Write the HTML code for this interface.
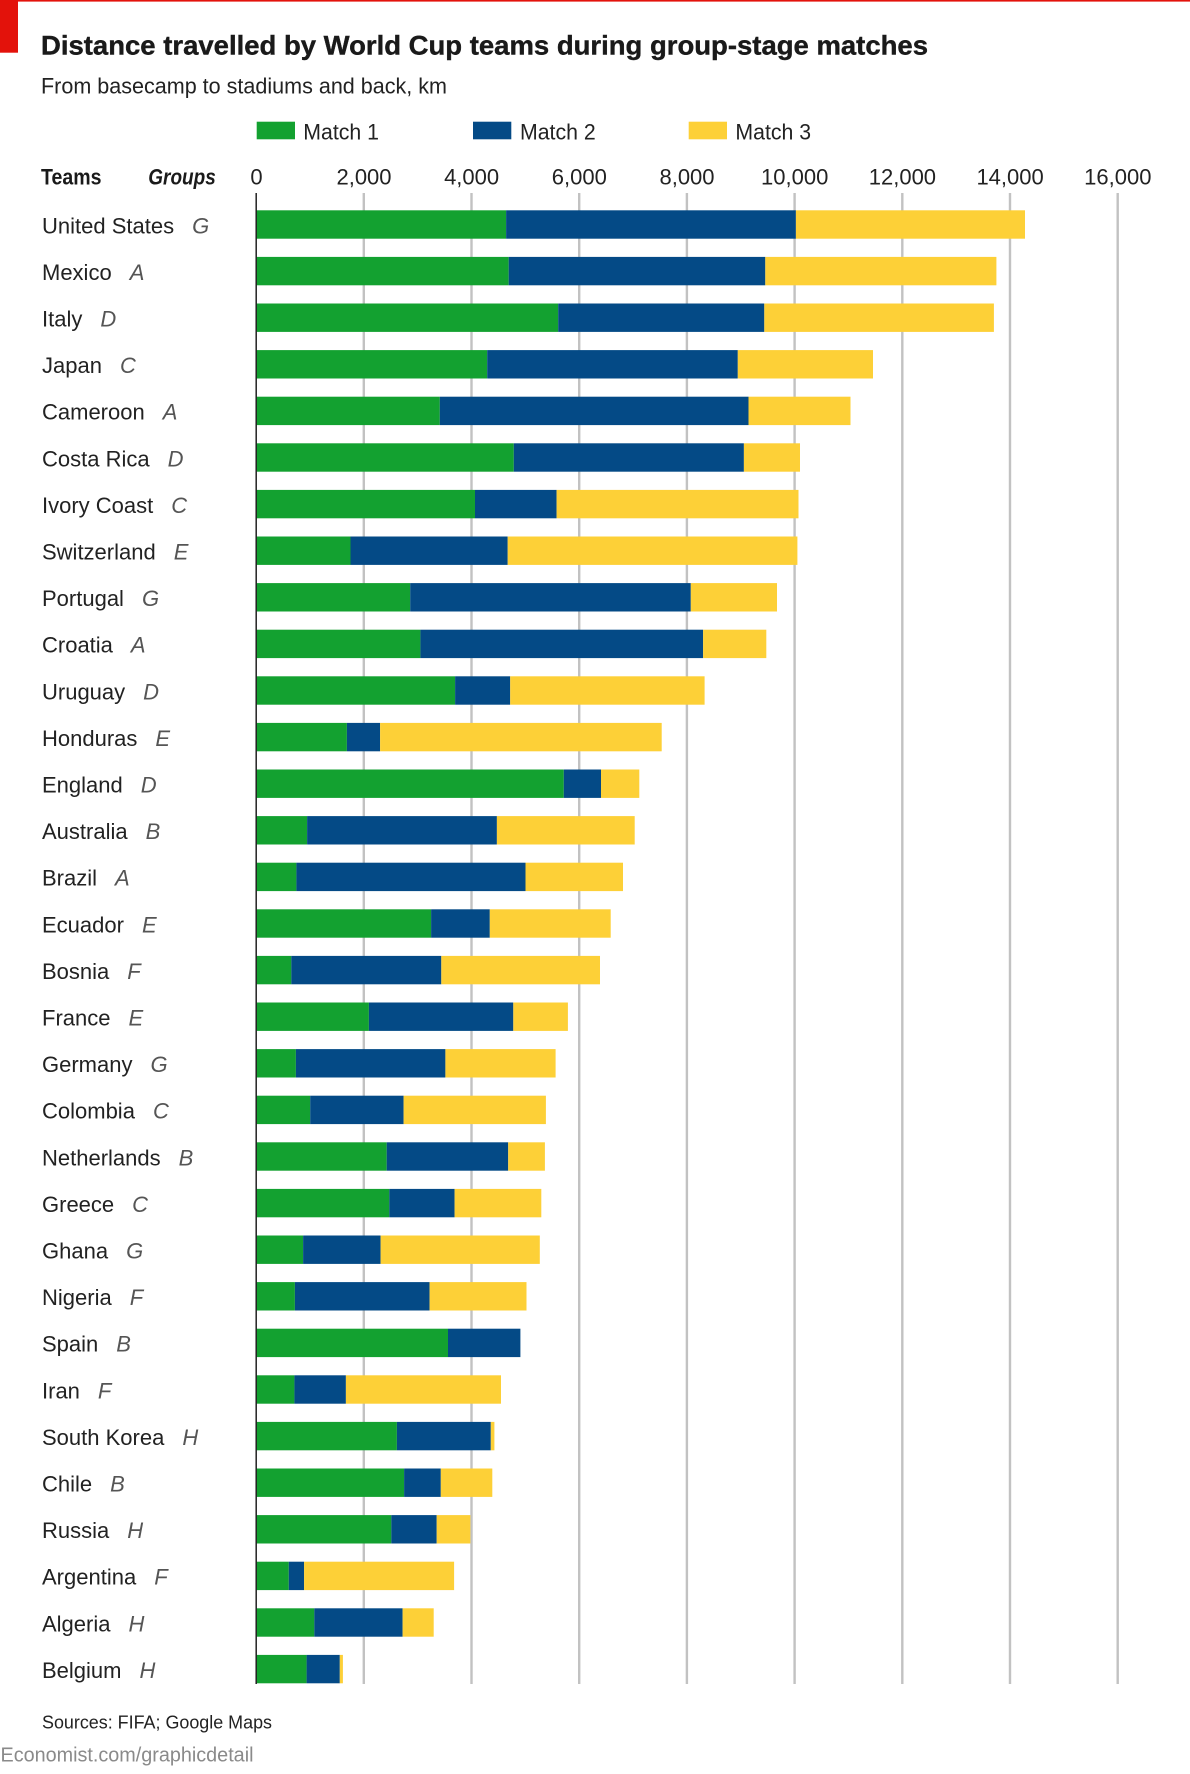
<!DOCTYPE html>
<html>
<head>
<meta charset="utf-8">
<style>
  html,body{margin:0;padding:0;background:#fff;}
  svg{display:block;}
  text{font-family:"Liberation Sans",Arial,sans-serif;}
</style>
</head>
<body>
<svg width="1190" height="1774" viewBox="0 0 1190 1774" xmlns="http://www.w3.org/2000/svg">
  <rect x="0" y="0" width="1190" height="1774" fill="#ffffff"/>
  <!-- Economist red -->
  <rect x="0" y="0" width="1190" height="1.6" fill="#e3120b"/>
  <rect x="0" y="0" width="18" height="52.7" fill="#e3120b"/>

  <!-- Title & subtitle -->
  <text x="41" y="54.5" font-size="27" font-weight="bold" fill="#1a1a1a" stroke="#1a1a1a" stroke-width="0.4" textLength="887" lengthAdjust="spacingAndGlyphs">Distance travelled by World Cup teams during group-stage matches</text>
  <text x="41" y="93.3" font-size="22" fill="#222" textLength="406" lengthAdjust="spacingAndGlyphs">From basecamp to stadiums and back, km</text>

  <!-- Legend -->
  <rect x="256.7" y="121.7" width="38.3" height="17.6" fill="#13a130"/>
  <text x="303.3" y="139.3" font-size="22" fill="#222" textLength="75.7" lengthAdjust="spacingAndGlyphs">Match 1</text>
  <rect x="473" y="121.7" width="38.3" height="17.6" fill="#044a86"/>
  <text x="520" y="139.3" font-size="22" fill="#222" textLength="75.7" lengthAdjust="spacingAndGlyphs">Match 2</text>
  <rect x="688.7" y="121.7" width="38.3" height="17.6" fill="#fdd037"/>
  <text x="735.4" y="139.3" font-size="22" fill="#222" textLength="75.7" lengthAdjust="spacingAndGlyphs">Match 3</text>

  <!-- Header -->
  <text x="41" y="184.5" font-size="22" font-weight="bold" fill="#1a1a1a" textLength="60.5" lengthAdjust="spacingAndGlyphs">Teams</text>
  <text x="148.3" y="184.5" font-size="22" font-weight="bold" font-style="italic" fill="#1a1a1a" textLength="67.5" lengthAdjust="spacingAndGlyphs">Groups</text>
  <g font-size="22" fill="#222" text-anchor="middle">
    <text x="256.5" y="184.5">0</text>
    <text x="364" y="184.5">2,000</text>
    <text x="471.6" y="184.5">4,000</text>
    <text x="579.3" y="184.5">6,000</text>
    <text x="687" y="184.5">8,000</text>
    <text x="794.7" y="184.5">10,000</text>
    <text x="902.4" y="184.5">12,000</text>
    <text x="1010.1" y="184.5">14,000</text>
    <text x="1117.8" y="184.5">16,000</text>
  </g>

  <!-- Gridlines -->
  <g stroke="#c2c2c2" stroke-width="2.4">
    <line x1="363.8" y1="193" x2="363.8" y2="1684"/>
    <line x1="471.5" y1="193" x2="471.5" y2="1684"/>
    <line x1="579.2" y1="193" x2="579.2" y2="1684"/>
    <line x1="686.9" y1="193" x2="686.9" y2="1684"/>
    <line x1="794.6" y1="193" x2="794.6" y2="1684"/>
    <line x1="902.3" y1="193" x2="902.3" y2="1684"/>
    <line x1="1010" y1="193" x2="1010" y2="1684"/>
    <line x1="1117.7" y1="193" x2="1117.7" y2="1684"/>
  </g>

  <!-- Bars -->
  <g>
    <rect x="256.5" y="210.3" width="249.6" height="28.4" fill="#13a130"/><rect x="506.1" y="210.3" width="289.8" height="28.4" fill="#044a86"/><rect x="795.9" y="210.3" width="229.1" height="28.4" fill="#fdd037"/>
    <rect x="256.5" y="256.9" width="252.2" height="28.4" fill="#13a130"/><rect x="508.7" y="256.9" width="256.6" height="28.4" fill="#044a86"/><rect x="765.3" y="256.9" width="231.1" height="28.4" fill="#fdd037"/>
    <rect x="256.5" y="303.5" width="301.7" height="28.4" fill="#13a130"/><rect x="558.2" y="303.5" width="206.1" height="28.4" fill="#044a86"/><rect x="764.3" y="303.5" width="229.6" height="28.4" fill="#fdd037"/>
    <rect x="256.5" y="350.1" width="230.7" height="28.4" fill="#13a130"/><rect x="487.2" y="350.1" width="250.6" height="28.4" fill="#044a86"/><rect x="737.8" y="350.1" width="135.2" height="28.4" fill="#fdd037"/>
    <rect x="256.5" y="396.7" width="183.3" height="28.4" fill="#13a130"/><rect x="439.8" y="396.7" width="308.7" height="28.4" fill="#044a86"/><rect x="748.5" y="396.7" width="102" height="28.4" fill="#fdd037"/>
    <rect x="256.5" y="443.3" width="257.3" height="28.4" fill="#13a130"/><rect x="513.8" y="443.3" width="230.1" height="28.4" fill="#044a86"/><rect x="743.9" y="443.3" width="56.1" height="28.4" fill="#fdd037"/>
    <rect x="256.5" y="489.9" width="218.5" height="28.4" fill="#13a130"/><rect x="475" y="489.9" width="81.6" height="28.4" fill="#044a86"/><rect x="556.6" y="489.9" width="241.9" height="28.4" fill="#fdd037"/>
    <rect x="256.5" y="536.5" width="94" height="28.4" fill="#13a130"/><rect x="350.5" y="536.5" width="157.2" height="28.4" fill="#044a86"/><rect x="507.7" y="536.5" width="289.7" height="28.4" fill="#fdd037"/>
    <rect x="256.5" y="583.1" width="153.7" height="28.4" fill="#13a130"/><rect x="410.2" y="583.1" width="280.6" height="28.4" fill="#044a86"/><rect x="690.8" y="583.1" width="86.2" height="28.4" fill="#fdd037"/>
    <rect x="256.5" y="629.7" width="163.9" height="28.4" fill="#13a130"/><rect x="420.4" y="629.7" width="282.7" height="28.4" fill="#044a86"/><rect x="703.1" y="629.7" width="63.2" height="28.4" fill="#fdd037"/>
    <rect x="256.5" y="676.3" width="198.6" height="28.4" fill="#13a130"/><rect x="455.1" y="676.3" width="55.1" height="28.4" fill="#044a86"/><rect x="510.2" y="676.3" width="194.4" height="28.4" fill="#fdd037"/>
    <rect x="256.5" y="722.9" width="90.4" height="28.4" fill="#13a130"/><rect x="346.9" y="722.9" width="33.2" height="28.4" fill="#044a86"/><rect x="380.1" y="722.9" width="281.6" height="28.4" fill="#fdd037"/>
    <rect x="256.5" y="769.5" width="307.3" height="28.4" fill="#13a130"/><rect x="563.8" y="769.5" width="37.2" height="28.4" fill="#044a86"/><rect x="601" y="769.5" width="38.3" height="28.4" fill="#fdd037"/>
    <rect x="256.5" y="816.1" width="50.6" height="28.4" fill="#13a130"/><rect x="307.1" y="816.1" width="189.8" height="28.4" fill="#044a86"/><rect x="496.9" y="816.1" width="137.8" height="28.4" fill="#fdd037"/>
    <rect x="256.5" y="862.7" width="39.9" height="28.4" fill="#13a130"/><rect x="296.4" y="862.7" width="229.1" height="28.4" fill="#044a86"/><rect x="525.5" y="862.7" width="97.5" height="28.4" fill="#fdd037"/>
    <rect x="256.5" y="909.3" width="174.6" height="28.4" fill="#13a130"/><rect x="431.1" y="909.3" width="58.7" height="28.4" fill="#044a86"/><rect x="489.8" y="909.3" width="120.9" height="28.4" fill="#fdd037"/>
    <rect x="256.5" y="955.9" width="34.8" height="28.4" fill="#13a130"/><rect x="291.3" y="955.9" width="150" height="28.4" fill="#044a86"/><rect x="441.3" y="955.9" width="158.7" height="28.4" fill="#fdd037"/>
    <rect x="256.5" y="1002.5" width="112.4" height="28.4" fill="#13a130"/><rect x="368.9" y="1002.5" width="144.4" height="28.4" fill="#044a86"/><rect x="513.3" y="1002.5" width="54.6" height="28.4" fill="#fdd037"/>
    <rect x="256.5" y="1049.1" width="39.4" height="28.4" fill="#13a130"/><rect x="295.9" y="1049.1" width="149.5" height="28.4" fill="#044a86"/><rect x="445.4" y="1049.1" width="110.2" height="28.4" fill="#fdd037"/>
    <rect x="256.5" y="1095.7" width="53.7" height="28.4" fill="#13a130"/><rect x="310.2" y="1095.7" width="93.4" height="28.4" fill="#044a86"/><rect x="403.6" y="1095.7" width="142.3" height="28.4" fill="#fdd037"/>
    <rect x="256.5" y="1142.3" width="130.2" height="28.4" fill="#13a130"/><rect x="386.7" y="1142.3" width="121.5" height="28.4" fill="#044a86"/><rect x="508.2" y="1142.3" width="36.7" height="28.4" fill="#fdd037"/>
    <rect x="256.5" y="1188.9" width="132.8" height="28.4" fill="#13a130"/><rect x="389.3" y="1188.9" width="65.3" height="28.4" fill="#044a86"/><rect x="454.6" y="1188.9" width="86.7" height="28.4" fill="#fdd037"/>
    <rect x="256.5" y="1235.5" width="46.6" height="28.4" fill="#13a130"/><rect x="303.1" y="1235.5" width="77.5" height="28.4" fill="#044a86"/><rect x="380.6" y="1235.5" width="159.2" height="28.4" fill="#fdd037"/>
    <rect x="256.5" y="1282.1" width="38.4" height="28.4" fill="#13a130"/><rect x="294.9" y="1282.1" width="134.7" height="28.4" fill="#044a86"/><rect x="429.6" y="1282.1" width="96.9" height="28.4" fill="#fdd037"/>
    <rect x="256.5" y="1328.7" width="191.5" height="28.4" fill="#13a130"/><rect x="448" y="1328.7" width="72.4" height="28.4" fill="#044a86"/>
    <rect x="256.5" y="1375.3" width="37.9" height="28.4" fill="#13a130"/><rect x="294.4" y="1375.3" width="51.5" height="28.4" fill="#044a86"/><rect x="345.9" y="1375.3" width="155.1" height="28.4" fill="#fdd037"/>
    <rect x="256.5" y="1421.9" width="140.4" height="28.4" fill="#13a130"/><rect x="396.9" y="1421.9" width="93.9" height="28.4" fill="#044a86"/><rect x="490.8" y="1421.9" width="3.6" height="28.4" fill="#fdd037"/>
    <rect x="256.5" y="1468.5" width="147.6" height="28.4" fill="#13a130"/><rect x="404.1" y="1468.5" width="36.7" height="28.4" fill="#044a86"/><rect x="440.8" y="1468.5" width="51.5" height="28.4" fill="#fdd037"/>
    <rect x="256.5" y="1515.1" width="134.8" height="28.4" fill="#13a130"/><rect x="391.3" y="1515.1" width="45.4" height="28.4" fill="#044a86"/><rect x="436.7" y="1515.1" width="33.7" height="28.4" fill="#fdd037"/>
    <rect x="256.5" y="1561.7" width="32.3" height="28.4" fill="#13a130"/><rect x="288.8" y="1561.7" width="15.3" height="28.4" fill="#044a86"/><rect x="304.1" y="1561.7" width="150" height="28.4" fill="#fdd037"/>
    <rect x="256.5" y="1608.3" width="57.8" height="28.4" fill="#13a130"/><rect x="314.3" y="1608.3" width="88.3" height="28.4" fill="#044a86"/><rect x="402.6" y="1608.3" width="31.1" height="28.4" fill="#fdd037"/>
    <rect x="256.5" y="1654.9" width="50.1" height="28.4" fill="#13a130"/><rect x="306.6" y="1654.9" width="33.2" height="28.4" fill="#044a86"/><rect x="339.8" y="1654.9" width="3.1" height="28.4" fill="#fdd037"/>
  </g>

  <!-- Axis -->
  <line x1="256.2" y1="193" x2="256.2" y2="1684" stroke="#222" stroke-width="1.5"/>

  <!-- Team labels -->
  <g font-size="22" fill="#222">
    <text x="42" y="233.3">United States<tspan dx="18" font-style="italic" fill="#555">G</tspan></text>
    <text x="42" y="279.9">Mexico<tspan dx="18" font-style="italic" fill="#555">A</tspan></text>
    <text x="42" y="326.5">Italy<tspan dx="18" font-style="italic" fill="#555">D</tspan></text>
    <text x="42" y="373.1">Japan<tspan dx="18" font-style="italic" fill="#555">C</tspan></text>
    <text x="42" y="419.7">Cameroon<tspan dx="18" font-style="italic" fill="#555">A</tspan></text>
    <text x="42" y="466.3">Costa Rica<tspan dx="18" font-style="italic" fill="#555">D</tspan></text>
    <text x="42" y="512.9">Ivory Coast<tspan dx="18" font-style="italic" fill="#555">C</tspan></text>
    <text x="42" y="559.5">Switzerland<tspan dx="18" font-style="italic" fill="#555">E</tspan></text>
    <text x="42" y="606.1">Portugal<tspan dx="18" font-style="italic" fill="#555">G</tspan></text>
    <text x="42" y="652.7">Croatia<tspan dx="18" font-style="italic" fill="#555">A</tspan></text>
    <text x="42" y="699.3">Uruguay<tspan dx="18" font-style="italic" fill="#555">D</tspan></text>
    <text x="42" y="745.9">Honduras<tspan dx="18" font-style="italic" fill="#555">E</tspan></text>
    <text x="42" y="792.5">England<tspan dx="18" font-style="italic" fill="#555">D</tspan></text>
    <text x="42" y="839.1">Australia<tspan dx="18" font-style="italic" fill="#555">B</tspan></text>
    <text x="42" y="885.7">Brazil<tspan dx="18" font-style="italic" fill="#555">A</tspan></text>
    <text x="42" y="932.3">Ecuador<tspan dx="18" font-style="italic" fill="#555">E</tspan></text>
    <text x="42" y="978.9">Bosnia<tspan dx="18" font-style="italic" fill="#555">F</tspan></text>
    <text x="42" y="1025.5">France<tspan dx="18" font-style="italic" fill="#555">E</tspan></text>
    <text x="42" y="1072.1">Germany<tspan dx="18" font-style="italic" fill="#555">G</tspan></text>
    <text x="42" y="1118.7">Colombia<tspan dx="18" font-style="italic" fill="#555">C</tspan></text>
    <text x="42" y="1165.3">Netherlands<tspan dx="18" font-style="italic" fill="#555">B</tspan></text>
    <text x="42" y="1211.9">Greece<tspan dx="18" font-style="italic" fill="#555">C</tspan></text>
    <text x="42" y="1258.5">Ghana<tspan dx="18" font-style="italic" fill="#555">G</tspan></text>
    <text x="42" y="1305.1">Nigeria<tspan dx="18" font-style="italic" fill="#555">F</tspan></text>
    <text x="42" y="1351.7">Spain<tspan dx="18" font-style="italic" fill="#555">B</tspan></text>
    <text x="42" y="1398.3">Iran<tspan dx="18" font-style="italic" fill="#555">F</tspan></text>
    <text x="42" y="1444.9">South Korea<tspan dx="18" font-style="italic" fill="#555">H</tspan></text>
    <text x="42" y="1491.5">Chile<tspan dx="18" font-style="italic" fill="#555">B</tspan></text>
    <text x="42" y="1538.1">Russia<tspan dx="18" font-style="italic" fill="#555">H</tspan></text>
    <text x="42" y="1584.7">Argentina<tspan dx="18" font-style="italic" fill="#555">F</tspan></text>
    <text x="42" y="1631.3">Algeria<tspan dx="18" font-style="italic" fill="#555">H</tspan></text>
    <text x="42" y="1677.9">Belgium<tspan dx="18" font-style="italic" fill="#555">H</tspan></text>
  </g>

  <!-- Footer -->
  <text x="42" y="1728.3" font-size="18" fill="#222" textLength="230" lengthAdjust="spacingAndGlyphs">Sources: FIFA; Google Maps</text>
  <text x="0.5" y="1761.7" font-size="20" fill="#8a8a8a" textLength="253" lengthAdjust="spacingAndGlyphs">Economist.com/graphicdetail</text>
</svg>
</body>
</html>
